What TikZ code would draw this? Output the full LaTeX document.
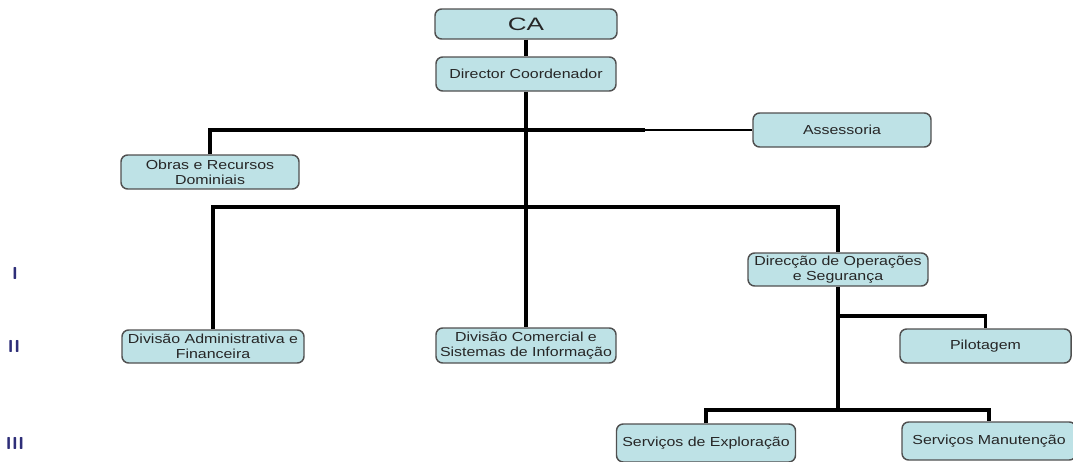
\documentclass[tikz,border=0pt]{standalone}
\usepackage{fontspec}
\usepackage{tikz}
\usetikzlibrary{positioning}
\newfontfamily\boxfont[FakeStretch=1.22]{Liberation Sans}
\newfontfamily\cafont[FakeStretch=1.45]{Liberation Sans}
\definecolor{boxfill}{HTML}{BEE2E6}
\definecolor{boxline}{HTML}{505050}
\definecolor{levelcol}{HTML}{2E2E78}

\begin{document}
\begin{tikzpicture}[x=0.75pt,y=-0.75pt,
    every node/.style={inner sep=0pt},
    unit/.style={draw=boxline, line width=1.1pt, fill=boxfill, rounded corners=5pt,
        minimum width=135pt, minimum height=25.5pt, align=center,
        font=\boxfont\fontsize{9.8}{11}\selectfont, text=black!85},
    link/.style={line width=2.3pt},
    level/.style={font=\sffamily\bfseries\fontsize{13}{14}\selectfont, text=levelcol}]
    \useasboundingbox (0,0) rectangle (1073,461);
    \clip (0,0) rectangle (1073,461);

    \node[unit, minimum width=136.5pt, minimum height=22.5pt,
        font=\cafont\fontsize{13.5}{15}\selectfont] (ca) at (526,24) {CA};
    \node[unit] (dir) at (526,74) {Director Coordenador};
    \node[unit, minimum width=133.5pt] (ase) at (842,130) {Assessoria};
    \node[unit, minimum width=133.5pt] (obras) at (210,172) {Obras e Recursos\\Dominiais};
    \node[unit, minimum height=24.75pt] (dop) at (838,269.5) {Direcção de Operações\\e Segurança};
    \node[unit, minimum width=136.5pt, minimum height=24.75pt] (dadm) at (213,346.5) {Divisão Administrativa e\\Financeira};
    \node[unit, minimum height=26.25pt] (dcom) at (526,345.5) {Divisão Comercial e\\Sistemas de Informação};
    \node[unit, minimum width=128.25pt] (pil) at (985.5,346) {Pilotagem};
    \node[unit, minimum width=134.25pt, minimum height=28.5pt] (sexp) at (706,443) {Serviços de Exploração};
    \node[unit, minimum width=130.5pt, minimum height=28.5pt] (sman) at (989,441) {Serviços Manutenção};

    \node[level] (l1) at (15,273) {I};
    \node[level] (l2) at (14,346) {II};
    \node[level] (l3) at (15,443) {III};

    \coordinate (j1) at (526,130);
    \coordinate (j2) at (526,207);
    \coordinate (j3) at (838,316);
    \coordinate (j4) at (838,410);
    \coordinate (k1) at (645,130);

    \draw[link] (ca) -- (dir);
    \draw[link] (dir) -- (dcom);
    \draw[link] (obras.north) |- (k1);
    \draw[link, line width=2pt] (k1) -- (ase.west);
    \draw[link] (dadm.north) |- (j2) -| (dop.north);
    \draw[link] (dop) -- (j4);
    \draw[link] (j3) -| (pil.north);
    \draw[link] (sexp.north) |- (j4) -| (sman.north);
\end{tikzpicture}
\end{document}
